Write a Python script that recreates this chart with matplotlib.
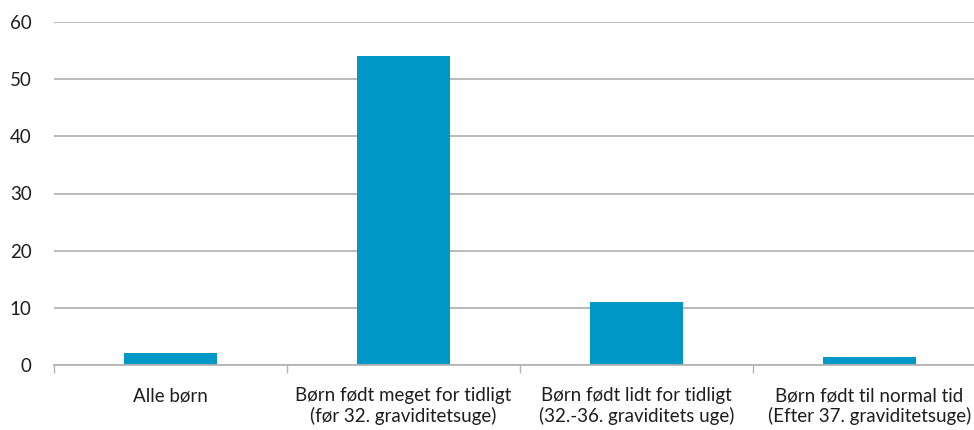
import matplotlib
matplotlib.use("Agg")
import matplotlib.pyplot as plt
import numpy as np

categories = [
    "Alle børn",
    "Børn født meget for tidligt\n(før 32. graviditetsuge)",
    "Børn født lidt for tidligt\n(32.-36. graviditets uge)",
    "Børn født til normal tid\n(Efter 37. graviditetsuge)",
]
values = [2.1, 54.0, 11.0, 1.4]
yticks = [0, 10, 20, 30, 40, 50, 60]

plt.rcParams["font.family"] = ["Lato", "DejaVu Sans"]

fig = plt.figure(figsize=(9.74, 4.3), dpi=100)
ax = fig.add_axes([54 / 974, 1 - 365 / 430, 932 / 974, 343 / 430])

x = np.arange(len(categories))
ax.bar(x, values, width=0.4, color="#0098c6", zorder=3)

ax.set_xlim(-0.5, len(categories) - 0.5)
ax.set_ylim(0, 60)
ax.set_yticks(yticks)
ax.yaxis.grid(True, color="#b4b4b4", linewidth=1.3, zorder=0)
ax.tick_params(axis="y", length=0, pad=16, labelsize=13.5, colors="#1e1e1e")

ax.set_xticks(x)
ax.set_xticklabels(categories, linespacing=1.2)
ax.tick_params(axis="x", which="major", length=0, pad=16, labelsize=13.5,
               colors="#1e1e1e")
ax.set_xticks(np.arange(-0.5, len(categories)), minor=True)
ax.tick_params(axis="x", which="minor", length=6, width=1, color="#b4b4b4")

for s in ["top", "right", "left"]:
    ax.spines[s].set_visible(False)
ax.spines["bottom"].set_color("#b4b4b4")
ax.spines["bottom"].set_linewidth(1.3)
ax.spines["bottom"].set_zorder(4)

fig.savefig("out.png", dpi=100)
